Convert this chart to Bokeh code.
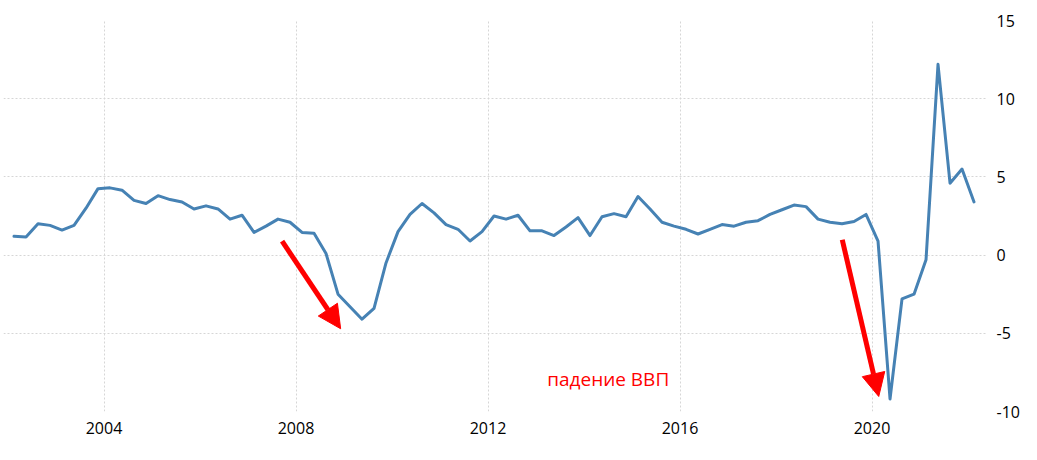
from bokeh.plotting import figure
from bokeh.models import Range1d, FixedTicker, PrintfTickFormatter, Arrow, NormalHead, Label, ColumnDataSource
from bokeh.embed import file_html
from bokeh.resources import INLINE

# Quarterly GDP growth, 2002Q1 .. 2022Q1 (percent, year over year)
start_year = 2002
gdp_growth = [
    1.2, 1.15, 2.0, 1.9,      # 2002
    1.6, 1.9, 3.0, 4.25,      # 2003
    4.3, 4.15, 3.5, 3.3,      # 2004
    3.8, 3.55, 3.4, 2.95,     # 2005
    3.15, 2.95, 2.3, 2.55,    # 2006
    1.45, 1.85, 2.3, 2.1,     # 2007
    1.45, 1.4, 0.1, -2.5,     # 2008
    -3.3, -4.1, -3.4, -0.5,   # 2009
    1.5, 2.6, 3.3, 2.7,       # 2010
    1.95, 1.65, 0.9, 1.5,     # 2011
    2.5, 2.3, 2.55, 1.55,     # 2012
    1.55, 1.25, 1.8, 2.4,     # 2013
    1.25, 2.45, 2.65, 2.45,   # 2014
    3.75, 2.95, 2.1, 1.85,    # 2015
    1.65, 1.35, 1.65, 1.95,   # 2016
    1.85, 2.1, 2.2, 2.6,      # 2017
    2.9, 3.2, 3.1, 2.3,       # 2018
    2.1, 2.0, 2.15, 2.6,      # 2019
    0.9, -9.2, -2.8, -2.5,    # 2020
    -0.3, 12.2, 4.6, 5.5,     # 2021
    3.4,                      # 2022
]
x_ticks = [2004, 2008, 2012, 2016, 2020]
y_ticks = [-10, -5, 0, 5, 10, 15]
annotation_text = "падение ВВП"

# quarter positions (mid-quarter)
quarter_x = [start_year + i * 0.25 + 0.125 for i in range(len(gdp_growth))]
source = ColumnDataSource(data=dict(x=quarter_x, y=gdp_growth))

p = figure(
    frame_width=983, frame_height=391,
    min_border_left=3, min_border_right=43, min_border_top=20, min_border_bottom=41,
    x_range=Range1d(2001.906, 2022.385), y_range=Range1d(-10, 15),
    y_axis_location="right",
    output_backend="svg", toolbar_location=None,
)
p.outline_line_color = None
p.background_fill_color = "white"
p.border_fill_color = "white"

p.line("x", "y", source=source, line_color="#4682B4", line_width=3, line_join="round", line_cap="round")

for ax in (p.xaxis[0], p.yaxis[0]):
    ax.axis_line_color = None
    ax.major_tick_line_color = None
    ax.minor_tick_line_color = None
    ax.major_label_text_font = "Open Sans"
    ax.major_label_text_font_size = "16px"
    ax.major_label_text_color = "#000000"

p.xaxis.ticker = FixedTicker(ticks=x_ticks)
p.xaxis.formatter = PrintfTickFormatter(format="%d")
p.xaxis.major_label_standoff = 4
p.yaxis.ticker = FixedTicker(ticks=y_ticks)
p.yaxis.formatter = PrintfTickFormatter(format="%d")
p.yaxis.major_label_standoff = 4

for g in (p.xgrid[0], p.ygrid[0]):
    g.grid_line_color = "#d6d6d6"
    g.grid_line_dash = "2 2"
    g.grid_line_width = 1
p.xgrid.ticker = FixedTicker(ticks=x_ticks)
p.ygrid.ticker = FixedTicker(ticks=y_ticks)

# red arrows (annotation positions in data units)
arrows = [
    (2007.71, 0.89, 2008.93, -4.71),
    (2019.38, 0.98, 2020.14, -9.04),
]
for xs, ys, xe, ye in arrows:
    p.add_layout(Arrow(
        x_start=xs, y_start=ys, x_end=xe, y_end=ye,
        line_color="#ff0000", line_width=5,
        end=NormalHead(size=23, fill_color="#ff0000", line_color="#ff0000", line_width=1),
    ))

p.add_layout(Label(
    x=2013.233, y=-7.95, text=annotation_text,
    text_color="#ff0000", text_font="Open Sans", text_font_size="19px",
    text_baseline="alphabetic", text_align="left",
))

open("out.html", "w").write(file_html(p, INLINE))
